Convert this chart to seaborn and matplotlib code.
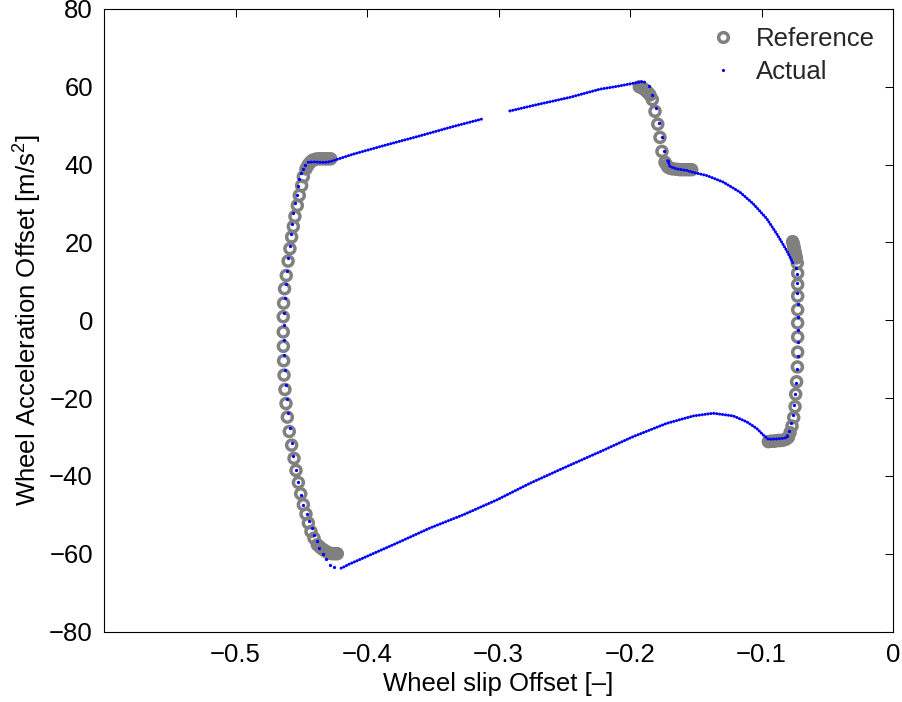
import matplotlib
matplotlib.use("Agg")
import matplotlib.pyplot as plt
import seaborn as sns
import pandas as pd
from matplotlib.lines import Line2D

# ---------------- data ----------------
# Reference (grey open circles)
ref_left_x = [-0.4226, -0.4245, -0.4265, -0.4285, -0.4303, -0.4322, -0.4340, -0.4358, -0.4378, -0.4403,
              -0.4426, -0.4446, -0.4464, -0.4484, -0.4504, -0.4522, -0.4540, -0.4555, -0.4573, -0.4591,
              -0.4606, -0.4616, -0.4624, -0.4631, -0.4634, -0.4636, -0.4637, -0.4637, -0.4634, -0.4627,
              -0.4614, -0.4600, -0.4586, -0.4573, -0.4560, -0.4548, -0.4530, -0.4515, -0.4497, -0.4484,
              -0.4464, -0.4450, -0.4439, -0.4422, -0.4408, -0.4390, -0.4370, -0.4350, -0.4331, -0.4312,
              -0.4294, -0.4276]
ref_left_y = [-60.0, -60.0, -60.0, -59.9, -59.6, -59.2, -58.8, -58.3, -57.7, -56.0,
              -54.3, -52.1, -49.8, -47.4, -44.6, -41.7, -38.6, -35.5, -32.1, -28.6,
              -24.9, -21.4, -17.8, -14.1, -10.4, -6.7, -3.0, 0.9, 4.4, 8.1,
              11.5, 15.2, 18.4, 21.4, 24.1, 26.7, 29.5, 32.1, 34.6, 36.9,
              38.9, 39.8, 40.3, 40.9, 41.2, 41.4, 41.5, 41.5, 41.5, 41.5,
              41.5, 41.5]
ref_top_x = [-0.1929, -0.1915, -0.1903, -0.1888, -0.1873, -0.1860, -0.1848, -0.1830, -0.1810, -0.1789,
             -0.1772, -0.1757, -0.1734, -0.1720, -0.1709, -0.1690, -0.1671, -0.1645, -0.1620, -0.1595,
             -0.1569, -0.1550, -0.1531]
ref_top_y = [60.0, 59.9, 59.6, 59.3, 58.8, 58.4, 57.9, 56.7, 53.7, 50.4,
             47.0, 43.4, 40.6, 39.8, 39.3, 39.0, 38.9, 38.8, 38.7, 38.7,
             38.7, 38.7, 38.7]
ref_right_x = [-0.0763, -0.0758, -0.0754, -0.0750, -0.0746, -0.0743, -0.0739, -0.0735, -0.0728, -0.0725,
               -0.0725, -0.0725, -0.0725, -0.0725, -0.0725, -0.0725, -0.0727, -0.0733, -0.0740, -0.0745,
               -0.0755, -0.0768, -0.0783, -0.0796, -0.0815, -0.0834, -0.0853, -0.0872, -0.0891, -0.0910,
               -0.0929, -0.0948]
ref_right_y = [20.2, 19.6, 19.0, 18.4, 17.7, 17.1, 16.5, 16.0, 14.7, 12.1,
               9.2, 6.2, 2.7, -0.7, -4.3, -8.2, -12.0, -15.8, -19.0, -22.2,
               -25.0, -27.2, -28.9, -30.1, -30.6, -30.8, -30.9, -30.9, -31.0, -31.1,
               -31.1, -31.2]

# Actual (blue dots) - sparse samples on the fast parts
act_left_x = [-0.4251, -0.4281, -0.4312, -0.4337, -0.4363, -0.4383, -0.4403, -0.4421, -0.4439, -0.4459,
              -0.4484, -0.4504, -0.4522, -0.4540, -0.4560, -0.4573, -0.4586, -0.4599, -0.4606, -0.4616,
              -0.4624, -0.4629, -0.4631, -0.4631, -0.4631, -0.4624, -0.4616, -0.4606, -0.4599, -0.4586,
              -0.4578, -0.4568, -0.4560, -0.4548, -0.4535, -0.4527, -0.4515, -0.4502, -0.4489, -0.4471]
act_left_y = [-63.5, -62.8, -61.4, -60.0, -58.5, -56.8, -55.1, -53.4, -51.7, -49.7,
              -47.4, -44.9, -41.7, -38.5, -35.0, -31.5, -27.8, -23.9, -20.3, -16.7,
              -12.8, -9.0, -5.2, -1.3, 1.9, 5.6, 9.2, 12.6, 16.1, 19.2,
              22.1, 24.8, 27.5, 30.1, 32.3, 34.4, 36.3, 37.8, 38.9, 40.0]
act_top_x = [-0.1853, -0.1835, -0.1805, -0.1779, -0.1759, -0.1739, -0.1713]
act_top_y = [60.1, 57.9, 54.5, 50.8, 47.0, 43.6, 41.0]
act_right_x = [-0.0740, -0.0733, -0.0733, -0.0728, -0.0725, -0.0725, -0.0725, -0.0725, -0.0725, -0.0728,
               -0.0735, -0.0745, -0.0753, -0.0763, -0.0776, -0.0789, -0.0804]
act_right_y = [13.4, 11.8, 9.6, 7.0, 4.3, 0.9, -2.4, -5.7, -9.2, -12.6,
               -16.1, -19.0, -21.8, -24.4, -26.5, -28.4, -29.7]

# Actual - densely sampled slow parts (traced vertices)
path1_x = [-0.4446, -0.4408, -0.4357, -0.4306, -0.4268, -0.4104, -0.3850, -0.3597, -0.3344, -0.3128]
path1_y = [40.6, 40.7, 40.6, 40.6, 40.9, 42.7, 45.1, 47.4, 49.8, 51.7]
path2_x = [-0.2913, -0.2710, -0.2456, -0.2228, -0.2101, -0.1975, -0.1911, -0.1873]
path2_y = [53.8, 55.4, 57.3, 59.4, 60.1, 60.9, 61.3, 61.1]
path3_x = [-0.1713, -0.1696, -0.1645, -0.1569, -0.1519, -0.1417, -0.1290, -0.1163, -0.1062, -0.0960,
           -0.0884, -0.0808, -0.0758]
path3_y = [41.0, 39.5, 38.9, 38.5, 38.0, 37.2, 35.5, 32.9, 29.9, 26.1,
           22.2, 17.9, 14.5]
path4_x = [-0.0804, -0.0821, -0.0884, -0.0948, -0.0986, -0.1037, -0.1113, -0.1214, -0.1367, -0.1519,
           -0.1721, -0.1975, -0.2228, -0.2507, -0.2760, -0.3014, -0.3268, -0.3521, -0.3774, -0.4028,
           -0.4142, -0.4192, -0.4218]
path4_y = [-29.7, -30.3, -30.5, -30.6, -29.5, -27.8, -26.1, -24.6, -23.9, -24.6,
           -26.5, -29.9, -33.8, -38.0, -41.9, -46.2, -50.0, -53.4, -57.3, -61.1,
           -62.8, -63.7, -63.8]

x_ticks = [-0.5, -0.4, -0.3, -0.2, -0.1, 0.0]
x_tick_labels = ["\u22120.5", "\u22120.4", "\u22120.3", "\u22120.2", "\u22120.1", "0"]
y_ticks = [-80, -60, -40, -20, 0, 20, 40, 60, 80]
y_tick_labels = ["\u221280", "\u221260", "\u221240", "\u221220", "0", "20", "40", "60", "80"]
legend_labels = ["Reference", "Actual"]

# ---------------- styling ----------------
sns.set_theme(style="white")
plt.rcParams["font.family"] = ["Liberation Sans", "DejaVu Sans"]
plt.rcParams["mathtext.default"] = "regular"
FS = 18.5
GREY = "#808080"
BLUE = "#0000ff"

fig = plt.figure(figsize=(9.02, 7.02), dpi=100)
fig.patch.set_facecolor("white")
ax = fig.add_axes([104 / 902, 1 - 631.5 / 702, (893 - 104) / 902, (631.5 - 9) / 702])
ax.set_facecolor("white")

ref_df = pd.DataFrame({"x": ref_left_x + ref_top_x + ref_right_x,
                       "y": ref_left_y + ref_top_y + ref_right_y})
act_df = pd.DataFrame({"x": act_left_x + act_top_x + act_right_x,
                       "y": act_left_y + act_top_y + act_right_y})
path_df = pd.DataFrame({
    "x": path1_x + path2_x + path3_x + path4_x,
    "y": path1_y + path2_y + path3_y + path4_y,
    "seg": [1] * len(path1_x) + [2] * len(path2_x) + [3] * len(path3_x) + [4] * len(path4_x),
})

sns.scatterplot(data=ref_df, x="x", y="y", ax=ax, s=52, marker="o", color=GREY,
                facecolor="none", edgecolor=GREY, linewidth=2.5, legend=False, zorder=2)
sns.lineplot(data=path_df, x="x", y="y", units="seg", estimator=None, sort=False,
             color=BLUE, linewidth=2.2, ax=ax, legend=False, zorder=3)
for ln in ax.lines:
    ln.set_linestyle((0, (0.01, 0.95)))
    ln.set_dash_capstyle("round")
sns.scatterplot(data=act_df, x="x", y="y", ax=ax, s=5.5, marker="o", color=BLUE,
                linewidth=0, legend=False, zorder=4)

ax.set_xlim(-0.6, 0)
ax.set_ylim(-80, 80)
ax.set_xticks(x_ticks)
ax.set_xticklabels(x_tick_labels)
ax.set_yticks(y_ticks)
ax.set_yticklabels(y_tick_labels)
ax.tick_params(direction="in", length=5.5, width=0.75, top=True, right=True,
               labelsize=FS, pad=8, colors="black")
for sp in ax.spines.values():
    sp.set_visible(True)
    sp.set_color("black")
    sp.set_linewidth(0.8)
ax.grid(False)

ax.set_xlabel("Wheel slip Offset [\u2013]", fontsize=FS, color="black", labelpad=4)
ax.set_ylabel("Wheel Acceleration Offset [m/s$^{2}$]", fontsize=FS, color="black", labelpad=4)

h_ref = Line2D([], [], marker="o", ls="", mfc="none", mec=GREY, mew=2.5, ms=7.0)
h_act = Line2D([], [], marker="o", ls="", mfc=BLUE, mec="none", ms=2.3)
ax.legend([h_ref, h_act], legend_labels, loc="upper right", frameon=False, fontsize=FS,
          handlelength=1.0, handletextpad=0.77, labelspacing=0.35, borderaxespad=0.2,
          borderpad=0.5)

fig.savefig("out.png", dpi=100, facecolor="white")
